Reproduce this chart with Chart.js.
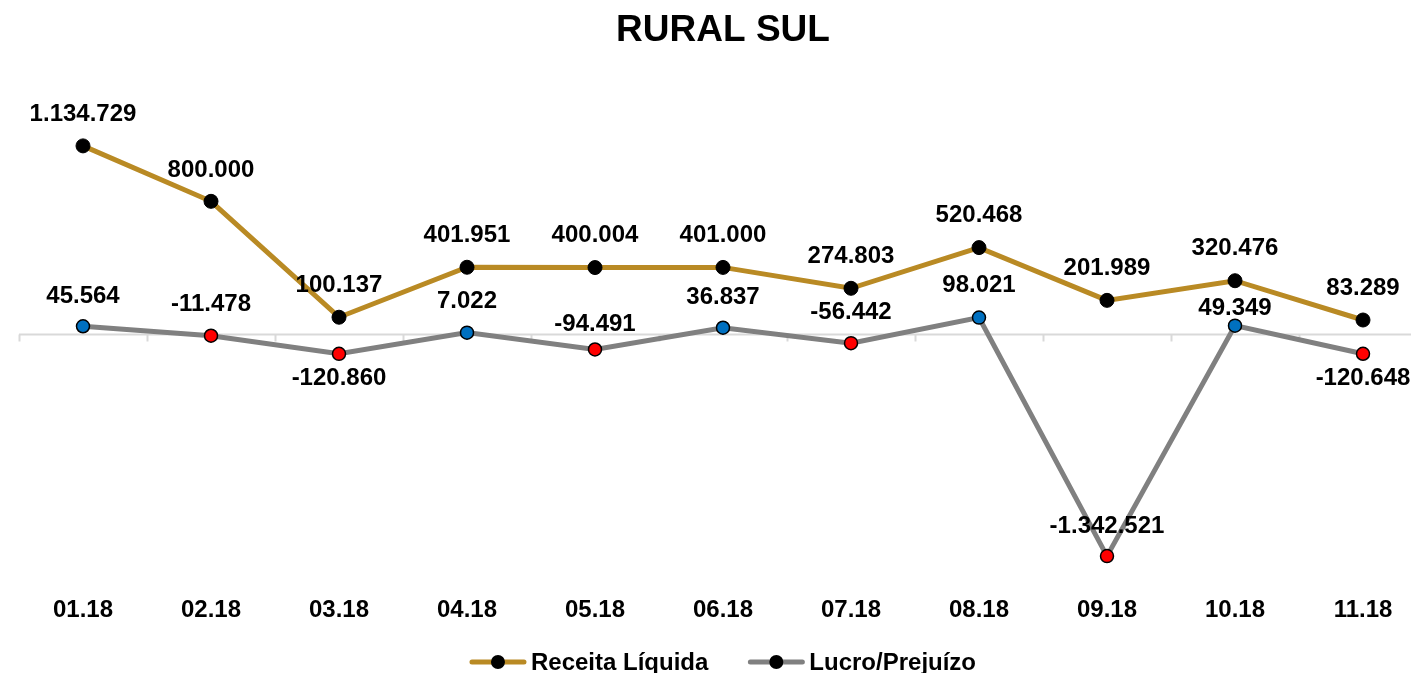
<!DOCTYPE html>
<html><head><meta charset="utf-8">
<script src="https://cdn.jsdelivr.net/npm/chart.js@4/dist/chart.umd.min.js"></script>
<style>html,body{margin:0;padding:0;overflow:hidden;background:#fff}
#wrap{position:relative;width:1448px;height:673px}</style>
</head><body><div id="wrap"><canvas id="c"></canvas></div>
<script>
const chartTitle = 'RURAL SUL';
const categories = ['01.18','02.18','03.18','04.18','05.18','06.18','07.18','08.18','09.18','10.18','11.18'];
const receitaLiquida = [1134729, 800000, 100137, 401951, 400004, 401000, 274803, 520468, 201989, 320476, 83289];
const lucroPrejuizo = [45564, -11478, -120860, 7022, -94491, 36837, -56442, 98021, -1342521, 49349, -120648];
const seriesNames = ['Receita Líquida', 'Lucro/Prejuízo'];

const FONT = '"Liberation Sans", Arial, sans-serif';
const GOLD = '#B98A24', GRAY = '#808080';

function fmt(v){
  const s = Math.abs(v).toString().replace(/\B(?=(\d{3})+(?!\d))/g, '.');
  return (v < 0 ? '-' : '') + s;
}

const axisPlugin = {
  id: 'zeroAxis',
  beforeDatasetsDraw(chart){
    const {ctx, chartArea, scales} = chart;
    const y0 = Math.round(scales.y.getPixelForValue(0)) + 0.5;
    const xs = scales.x;
    ctx.save();
    ctx.strokeStyle = '#D9D9D9';
    ctx.lineWidth = 2;
    ctx.beginPath();
    ctx.moveTo(chartArea.left, y0); ctx.lineTo(chartArea.right, y0);
    const n = chart.data.labels.length;
    for (let i = 0; i <= n; i++) {
      let x;
      if (i === 0) x = chartArea.left;
      else if (i === n) x = chartArea.right;
      else x = (xs.getPixelForValue(i - 1) + xs.getPixelForValue(i)) / 2;
      x = Math.round(x) + 0.5;
      ctx.moveTo(x, y0); ctx.lineTo(x, y0 + 7);
    }
    ctx.stroke();
    ctx.restore();
  }
};

const labelPlugin = {
  id: 'valueLabels',
  afterDatasetsDraw(chart, args, opts){
    const ctx = chart.ctx;
    ctx.save();
    ctx.font = 'bold 24px ' + FONT;
    ctx.fillStyle = '#000';
    ctx.textAlign = 'center';
    ctx.textBaseline = 'middle';
    chart.data.datasets.forEach((ds, di) => {
      const meta = chart.getDatasetMeta(di);
      const offs = opts.offsets[di];
      meta.data.forEach((pt, i) => {
        ctx.fillText(fmt(ds.data[i]), pt.x, pt.y + offs[i]);
      });
    });
    ctx.restore();
  }
};

const legendPlugin = {
  id: 'lineLegend',
  afterDraw(chart){
    const ctx = chart.ctx;
    const ds = chart.data.datasets;
    ctx.save();
    ctx.font = 'bold 24px ' + FONT;
    ctx.textBaseline = 'middle';
    ctx.textAlign = 'left';
    const lineLen = 56, gapText = 5, gapItems = 40;
    const widths = ds.map(d => lineLen + gapText + ctx.measureText(d.label).width);
    const total = widths.reduce((a, b) => a + b, 0) + gapItems * (ds.length - 1);
    let x = (chart.chartArea.left + chart.chartArea.right) / 2 - total / 2;
    const y = 662;
    ds.forEach((d, i) => {
      ctx.strokeStyle = d.borderColor;
      ctx.lineWidth = 5;
      ctx.lineCap = 'round';
      ctx.beginPath(); ctx.moveTo(x + 2, y); ctx.lineTo(x + lineLen - 2, y); ctx.stroke();
      ctx.fillStyle = '#000';
      ctx.beginPath(); ctx.arc(x + lineLen / 2, y, 7, 0, Math.PI * 2); ctx.fill();
      ctx.fillText(d.label, x + lineLen + gapText, y + 1);
      x += widths[i] + gapItems;
    });
    ctx.restore();
  }
};

new Chart(document.getElementById('c'), {
  type: 'line',
  data: {
    labels: categories,
    datasets: [
      {
        label: seriesNames[0],
        data: receitaLiquida,
        borderColor: GOLD,
        borderWidth: 5,
        pointRadius: 7,
        pointBackgroundColor: '#000',
        pointBorderColor: '#000',
        pointBorderWidth: 1,
        tension: 0,
        order: 2
      },
      {
        label: seriesNames[1],
        data: lucroPrejuizo,
        borderColor: GRAY,
        borderWidth: 5,
        pointRadius: 6.5,
        pointBackgroundColor: c => (c.raw >= 0 ? '#0070C0' : '#FF0000'),
        pointBorderColor: '#000',
        pointBorderWidth: 1.5,
        tension: 0,
        order: 1
      }
    ]
  },
  options: {
    responsive: true,
    maintainAspectRatio: false,
    animation: false,
    layout: {padding: {left: 19, right: 21, top: 0, bottom: 34}},
    plugins: {
      legend: {display: false},
      tooltip: {enabled: false},
      title: {
        display: true, text: chartTitle, color: '#000',
        font: {family: FONT, size: 37, weight: 'bold'},
        padding: {top: 9, bottom: 32}
      },
      valueLabels: {
        offsets: [
          [-32, -31, -32, -32, -32, -32, -32, -32, -32, -32, -32],
          [-30, -31, 25, -31, -25, -30, -31, -32, -30, -17, 25]
        ]
      }
    },
    scales: {
      x: {
        offset: true,
        grid: {display: false, drawTicks: false},
        border: {display: false},
        ticks: {color: '#000', font: {family: FONT, size: 24, weight: 'bold'}, padding: 14, maxRotation: 0, autoSkip: false}
      },
      y: {display: false, min: -1500000, max: 1500000}
    }
  },
  plugins: [axisPlugin, labelPlugin, legendPlugin]
});
</script>
</body></html>
